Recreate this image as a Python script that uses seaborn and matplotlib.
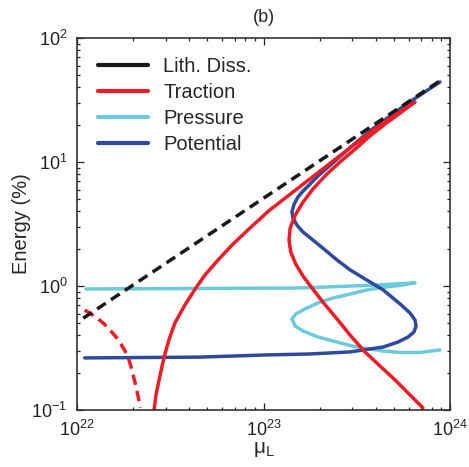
import numpy as np
import pandas as pd
import matplotlib
matplotlib.use("Agg")
import matplotlib.pyplot as plt
from matplotlib.lines import Line2D
import seaborn as sns

# ---------------- data ----------------
lith_mu = [1.08e22, 8.8e23]
lith_E = [0.55, 45.0]

trac_mu = [2.59e22, 2.65e22, 2.79e22, 2.93e22, 3.11e22, 3.35e22, 3.79e22, 4.30e22,
           4.86e22, 5.64e22, 6.78e22, 8.47e22, 1.08e23, 1.44e23, 2.01e23, 2.91e23,
           4.22e23, 6.49e23,
           5.40e23, 4.48e23, 3.72e23, 3.10e23, 2.57e23, 2.16e23, 1.84e23, 1.63e23,
           1.48e23, 1.39e23, 1.37e23, 1.40e23, 1.49e23, 1.63e23, 1.82e23, 2.08e23,
           2.51e23, 2.94e23, 3.50e23, 4.22e23, 5.07e23, 6.11e23, 7.16e23]
trac_E = [0.100, 0.132, 0.191, 0.267, 0.367, 0.504, 0.703, 0.946,
          1.23, 1.59, 2.14, 2.94, 4.10, 5.73, 8.45, 13.0,
          19.9, 30.5,
          24.8, 20.2, 16.2, 12.7, 10.0, 7.85, 6.05, 4.75,
          3.74, 2.94, 2.35, 1.88, 1.50, 1.20, 0.964, 0.743,
          0.53, 0.395, 0.294, 0.226, 0.175, 0.132, 0.104]

trac_neg_mu = [1.10e22, 1.19e22, 1.28e22, 1.40e22, 1.50e22, 1.62e22, 1.72e22,
               1.81e22, 1.90e22, 1.97e22, 2.05e22, 2.12e22, 2.18e22]
trac_neg_E = [0.64, 0.594, 0.552, 0.494, 0.442, 0.388, 0.340,
              0.299, 0.253, 0.210, 0.165, 0.132, 0.104]

pres_mu = [1.12e22, 4.57e22, 1.57e23, 3.59e23, 6.49e23,
           5.40e23, 4.48e23, 3.59e23, 2.91e23, 2.36e23, 1.96e23, 1.67e23, 1.49e23,
           1.42e23, 1.48e23, 1.63e23, 1.96e23, 2.48e23, 2.99e23, 3.59e23, 4.38e23,
           5.40e23, 6.90e23, 8.83e23]
pres_E = [0.946, 0.955, 0.964, 1.01, 1.06,
          1.01, 0.98, 0.93, 0.861, 0.80, 0.73, 0.653, 0.594,
          0.542, 0.475, 0.434, 0.388, 0.353, 0.328, 0.313, 0.299,
          0.291, 0.291, 0.305]

pot_mu = [1.10e22, 4.57e22, 1.04e23, 1.77e23, 2.91e23, 4.38e23, 5.26e23, 5.96e23,
          6.41e23, 6.58e23, 6.49e23, 6.11e23, 5.40e23, 4.38e23, 3.50e23, 2.91e23,
          2.48e23, 2.14e23, 1.84e23, 1.63e23, 1.51e23, 1.44e23, 1.42e23, 1.46e23,
          1.53e23, 1.63e23, 1.96e23, 2.42e23, 2.99e23, 3.72e23, 5.74e23, 8.83e23]
pot_E = [0.263, 0.267, 0.278, 0.283, 0.294, 0.322, 0.353, 0.388,
         0.426, 0.475, 0.532, 0.605, 0.716, 0.93, 1.14, 1.35,
         1.62, 1.95, 2.35, 2.72, 3.10, 3.53, 3.95, 4.58,
         5.22, 5.83, 7.71, 10.2, 13.5, 17.8, 28.8, 44.2]

labels = ["Lith. Diss.", "Traction", "Pressure", "Potential"]
colors = ["#1a1a1a", "#ee1c25", "#6ccbdb", "#2e4a9c"]

# ---------------- style ----------------
sns.set_theme(style="ticks")
plt.rcParams["font.family"] = ["Liberation Sans", "DejaVu Sans"]
plt.rcParams["mathtext.fontset"] = "custom"
plt.rcParams["mathtext.rm"] = "Liberation Sans"
plt.rcParams["mathtext.it"] = "Liberation Sans:italic"
plt.rcParams["mathtext.default"] = "regular"

fig = plt.figure(figsize=(4.69, 4.67), dpi=100)
ax = fig.add_axes([77 / 469, 1 - 410 / 467, 373 / 469, 372 / 467])

lw = 2.5
def draw(mu, E, color, ls="-"):
    df = pd.DataFrame({"mu": mu, "E": E})
    sns.lineplot(data=df, x="mu", y="E", sort=False, estimator=None,
                 color=color, lw=lw, ax=ax, linestyle=ls, legend=False)

draw(pres_mu, pres_E, colors[2])
draw(pot_mu, pot_E, colors[3])
draw(trac_mu, trac_E, colors[1])
draw(trac_neg_mu, trac_neg_E, colors[1], ls=(0, (3.0, 1.8)))
draw(lith_mu, lith_E, colors[0], ls=(0, (3.0, 1.8)))

ax.set_xscale("log")
ax.set_yscale("log")
ax.set_xlim(1e22, 1e24)
ax.set_ylim(1e-1, 1e2)

ax.tick_params(which="both", direction="in", top=True, right=True,
               labelsize=13, colors="#222222", width=0.9)
ax.tick_params(which="major", length=5, pad=7)
ax.tick_params(which="minor", length=2.5)
for s in ax.spines.values():
    s.set_linewidth(1.2)
    s.set_color("#333333")

ax.set_xlabel("μ$_{L}$", fontsize=15, labelpad=0)
ax.set_ylabel("Energy (%)", fontsize=14.5, labelpad=0)
ax.set_title("(b)", fontsize=13, pad=11.5)

handles = [Line2D([], [], color=c, lw=3) for c in colors]
ax.legend(handles, labels, loc="upper left", bbox_to_anchor=(0.056, 0.948),
          frameon=False, fontsize=14.5, handlelength=2.5, handletextpad=0.75,
          labelspacing=0.34, borderpad=0, borderaxespad=0)

fig.savefig("out.png", dpi=100)
